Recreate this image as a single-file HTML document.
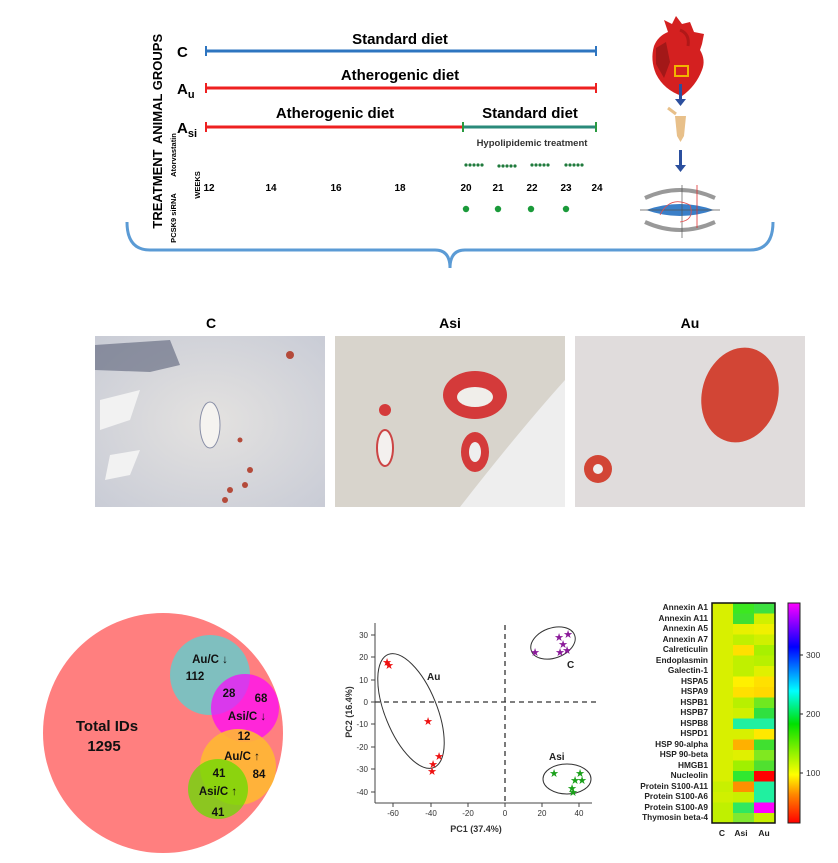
<!DOCTYPE html>
<html><head><meta charset="utf-8"><style>
body{margin:0;background:#fff}
svg{display:block}
text{font-family:"Liberation Sans",sans-serif}
.b{font-weight:bold}
</style></head><body>
<svg width="838" height="863" viewBox="0 0 838 863" xmlns="http://www.w3.org/2000/svg">
<defs>
<linearGradient id="cb" x1="0" y1="1" x2="0" y2="0">
<stop offset="0" stop-color="#ff0000"/><stop offset="0.13" stop-color="#ff8800"/><stop offset="0.22" stop-color="#ffff00"/><stop offset="0.45" stop-color="#00e000"/><stop offset="0.6" stop-color="#00ffff"/><stop offset="0.8" stop-color="#0000ff"/><stop offset="1" stop-color="#ff00ff"/>
</linearGradient>
<radialGradient id="tis" cx="0.5" cy="0.5" r="0.7"><stop offset="0" stop-color="#e4e2e0"/><stop offset="1" stop-color="#c9ccd6"/></radialGradient>
</defs>

<!-- Timeline -->
<text x="162" y="89" class="b" font-size="13" transform="rotate(-90 162 89)" text-anchor="middle">ANIMAL GROUPS</text>
<text x="162" y="189" class="b" font-size="13" transform="rotate(-90 162 189)" text-anchor="middle">TREATMENT</text>
<text x="176" y="155" class="b" font-size="7.5" transform="rotate(-90 176 155)" text-anchor="middle">Atorvastatin</text>
<text x="176" y="218" class="b" font-size="7.5" transform="rotate(-90 176 218)" text-anchor="middle">PCSK9 siRNA</text>
<text x="200" y="185" class="b" font-size="7.5" transform="rotate(-90 200 185)" text-anchor="middle">WEEKS</text>

<text x="177" y="57" class="b" font-size="15">C</text>
<text x="177" y="94" class="b" font-size="15">A<tspan font-size="11" dy="4">u</tspan></text>
<text x="177" y="133" class="b" font-size="15">A<tspan font-size="11" dy="4">si</tspan></text>

<line x1="206" y1="51" x2="596" y2="51" stroke="#2e75c0" stroke-width="3"/>
<line x1="206" y1="46" x2="206" y2="56" stroke="#2e75c0" stroke-width="2"/><line x1="596" y1="46" x2="596" y2="56" stroke="#2e75c0" stroke-width="2"/>
<text x="400" y="44" class="b" font-size="15" text-anchor="middle">Standard diet</text>

<line x1="206" y1="88" x2="596" y2="88" stroke="#ee2020" stroke-width="3"/>
<line x1="206" y1="83" x2="206" y2="93" stroke="#ee2020" stroke-width="2"/><line x1="596" y1="83" x2="596" y2="93" stroke="#ee2020" stroke-width="2"/>
<text x="400" y="80" class="b" font-size="15" text-anchor="middle">Atherogenic diet</text>

<line x1="206" y1="127" x2="463" y2="127" stroke="#ee2020" stroke-width="3"/>
<line x1="463" y1="127" x2="596" y2="127" stroke="#2a8a7a" stroke-width="3"/>
<line x1="206" y1="122" x2="206" y2="132" stroke="#ee2020" stroke-width="2"/><line x1="463" y1="122" x2="463" y2="132" stroke="#2a9a40" stroke-width="2"/><line x1="596" y1="122" x2="596" y2="132" stroke="#2a9a40" stroke-width="2"/>
<text x="335" y="118" class="b" font-size="15" text-anchor="middle">Atherogenic diet</text>
<text x="530" y="118" class="b" font-size="15" text-anchor="middle">Standard diet</text>
<text x="532" y="146" class="b" font-size="9.5" text-anchor="middle" fill="#333">Hypolipidemic treatment</text>

<g fill="#1f7a3c">
<g id="d5"><circle cx="466" cy="165" r="1.6"/><circle cx="470" cy="165" r="1.6"/><circle cx="474" cy="165" r="1.6"/><circle cx="478" cy="165" r="1.6"/><circle cx="482" cy="165" r="1.6"/></g>
<use href="#d5" x="33" y="1"/><use href="#d5" x="66"/><use href="#d5" x="100"/>
<circle cx="466" cy="209" r="3.2" fill="#1a9a3a"/><circle cx="498" cy="209" r="3.2" fill="#1a9a3a"/><circle cx="531" cy="209" r="3.2" fill="#1a9a3a"/><circle cx="566" cy="209" r="3.2" fill="#1a9a3a"/>
</g>
<g class="b" font-size="10" text-anchor="middle">
<text x="209" y="191">12</text><text x="271" y="191">14</text><text x="336" y="191">16</text><text x="400" y="191">18</text><text x="466" y="191">20</text><text x="498" y="191">21</text><text x="532" y="191">22</text><text x="566" y="191">23</text><text x="597" y="191">24</text>
</g>

<!-- heart workflow -->
<path d="M668 32 L664 20 L672 24 L676 16 L682 24 L690 22 L694 32 L704 34 L702 44 L700 50 Q706 60 702 70 Q696 86 682 96 Q664 90 656 74 Q650 60 654 46 Q658 36 668 32 Z" fill="#d42020"/>
<path d="M656 48 L666 42 L670 62 L664 78 L656 64 Z" fill="#a31818"/>
<path d="M680 30 Q690 34 688 46" fill="none" stroke="#b01818" stroke-width="3"/>
<rect x="675" y="66" width="13" height="10" fill="none" stroke="#f2b400" stroke-width="2"/>
<rect x="679" y="84" width="3" height="16" fill="#2b4f9e"/><path d="M675 99 L686 99 L680.5 106 Z" fill="#2b4f9e"/>
<path d="M675 116 L686 116 L684 136 L680.5 142 L677 136 Z" fill="#e8c08a"/>
<path d="M668 108 L676 114" stroke="#e8c08a" stroke-width="3"/>
<rect x="679" y="150" width="3" height="16" fill="#2b4f9e"/><path d="M675 165 L686 165 L680.5 172 Z" fill="#2b4f9e"/>
<path d="M645 198 Q680 182 715 198" fill="none" stroke="#999" stroke-width="4"/>
<path d="M645 222 Q680 238 715 222" fill="none" stroke="#999" stroke-width="4"/>
<path d="M646 210 Q680 198 714 210 Q680 222 646 210 Z" fill="#3a7fc8"/>
<line x1="682" y1="185" x2="682" y2="238" stroke="#555" stroke-width="0.7"/>
<line x1="640" y1="210" x2="720" y2="210" stroke="#555" stroke-width="0.7"/>
<line x1="697" y1="185" x2="697" y2="228" stroke="#e03030" stroke-width="0.8"/>
<path d="M660 215 Q670 195 690 205 Q695 220 680 222" fill="none" stroke="#e05050" stroke-width="0.8"/>

<!-- bracket -->
<path d="M127 222 Q127 250 150 250 L435 250 Q450 250 450 268 Q450 250 465 250 L750 250 Q773 250 773 222" fill="none" stroke="#5b9bd5" stroke-width="3"/>

<!-- micrographs -->
<g class="b" font-size="14" text-anchor="middle"><text x="211" y="328">C</text><text x="450" y="328">Asi</text><text x="690" y="328">Au</text></g>
<rect x="95" y="336" width="230" height="171" fill="url(#tis)"/>
<path d="M95 345 L170 340 L180 365 L150 372 L95 370 Z" fill="#5a6078" opacity="0.6"/>
<path d="M100 400 L140 390 L130 420 L100 430 Z M110 455 L140 450 L130 475 L105 480 Z" fill="#f2f2f2"/>
<ellipse cx="210" cy="425" rx="10" ry="23" fill="#f5f3f0" stroke="#8a90a8"/>
<g fill="#b44a3a"><circle cx="290" cy="355" r="4"/><circle cx="250" cy="470" r="3"/><circle cx="245" cy="485" r="3"/><circle cx="230" cy="490" r="3"/><circle cx="225" cy="500" r="3"/><circle cx="240" cy="440" r="2.5"/></g>

<rect x="335" y="336" width="230" height="171" fill="#d8d4cc"/>
<path d="M565 380 Q520 430 460 507 L565 507 Z" fill="#eeeeee"/>
<ellipse cx="475" cy="395" rx="32" ry="24" fill="#d43a3a"/><ellipse cx="475" cy="397" rx="18" ry="10" fill="#f0eeea"/>
<ellipse cx="475" cy="452" rx="14" ry="20" fill="#d43a3a"/><ellipse cx="475" cy="452" rx="6" ry="10" fill="#eee"/>
<ellipse cx="385" cy="448" rx="8" ry="18" fill="#f3f0ee" stroke="#c44" stroke-width="2"/>
<circle cx="385" cy="410" r="6" fill="#d43a3a"/>

<rect x="575" y="336" width="230" height="171" fill="#e0dcdc"/>
<ellipse cx="740" cy="395" rx="38" ry="48" transform="rotate(15 740 395)" fill="#d24535"/>
<circle cx="598" cy="469" r="14" fill="#d24535"/><circle cx="598" cy="469" r="5" fill="#eee"/>

<!-- Venn -->
<circle cx="163" cy="733" r="120" fill="#ff7f7f"/>
<circle cx="210" cy="675" r="40" fill="#7fbfbf"/>
<circle cx="245" cy="708" r="34" fill="#ff00ff" opacity="0.7"/>
<circle cx="238" cy="767" r="38" fill="#ffb833" opacity="0.9"/>
<circle cx="218" cy="789" r="30" fill="#66dd00" opacity="0.75"/>
<g class="b" font-size="11.5" text-anchor="middle" fill="#111">
<text x="107" y="731" font-size="15">Total IDs</text><text x="104" y="751" font-size="15">1295</text>
<text x="210" y="663">Au/C ↓</text><text x="195" y="680">112</text><text x="229" y="697">28</text><text x="261" y="702">68</text>
<text x="247" y="720">Asi/C ↓</text><text x="244" y="740">12</text><text x="242" y="760">Au/C ↑</text>
<text x="219" y="777">41</text><text x="259" y="778">84</text><text x="218" y="795">Asi/C ↑</text><text x="218" y="816">41</text>
</g>

<!-- PCA -->
<g stroke="#444" stroke-width="1" fill="none">
<line x1="375" y1="623" x2="375" y2="803"/><line x1="375" y1="803" x2="592" y2="803"/>
</g>
<g stroke="#444" stroke-width="1">
<line x1="371" y1="635" x2="375" y2="635"/><line x1="371" y1="657" x2="375" y2="657"/><line x1="371" y1="680" x2="375" y2="680"/><line x1="371" y1="702" x2="375" y2="702"/><line x1="371" y1="724" x2="375" y2="724"/><line x1="371" y1="747" x2="375" y2="747"/><line x1="371" y1="769" x2="375" y2="769"/><line x1="371" y1="792" x2="375" y2="792"/>
<line x1="393" y1="803" x2="393" y2="807"/><line x1="431" y1="803" x2="431" y2="807"/><line x1="468" y1="803" x2="468" y2="807"/><line x1="505" y1="803" x2="505" y2="807"/><line x1="542" y1="803" x2="542" y2="807"/><line x1="579" y1="803" x2="579" y2="807"/>
</g>
<g font-size="8" fill="#333" text-anchor="end">
<text x="368" y="638">30</text><text x="368" y="660">20</text><text x="368" y="683">10</text><text x="368" y="705">0</text><text x="368" y="727">-10</text><text x="368" y="750">-20</text><text x="368" y="772">-30</text><text x="368" y="795">-40</text>
</g>
<g font-size="8" fill="#333" text-anchor="middle">
<text x="393" y="816">-60</text><text x="431" y="816">-40</text><text x="468" y="816">-20</text><text x="505" y="816">0</text><text x="542" y="816">20</text><text x="579" y="816">40</text>
</g>
<text x="476" y="832" class="b" font-size="9" text-anchor="middle" fill="#333">PC1 (37.4%)</text>
<text x="352" y="712" class="b" font-size="9" text-anchor="middle" fill="#333" transform="rotate(-90 352 712)">PC2 (16.4%)</text>
<line x1="505" y1="625" x2="505" y2="803" stroke="#333" stroke-dasharray="5,4" stroke-width="1.3"/>
<line x1="375" y1="702" x2="600" y2="702" stroke="#333" stroke-dasharray="5,4" stroke-width="1.3"/>
<g fill="none" stroke="#333" stroke-width="1">
<ellipse cx="411" cy="711" rx="26" ry="61" transform="rotate(-22 411 711)"/>
<ellipse cx="553" cy="643" rx="23" ry="15" transform="rotate(-20 553 643)"/>
<ellipse cx="567" cy="779" rx="24" ry="15"/>
</g>
<g class="b" font-size="10" fill="#222"><text x="427" y="680">Au</text><text x="567" y="668">C</text><text x="549" y="760">Asi</text></g>
<g font-size="11" text-anchor="middle">
<g fill="#ee1111"><text x="387" y="666">★</text><text x="389" y="669">★</text><text x="428" y="725">★</text><text x="439" y="760">★</text><text x="433" y="768">★</text><text x="432" y="775">★</text></g>
<g fill="#8b1a9a"><text x="535" y="656">★</text><text x="559" y="641">★</text><text x="568" y="638">★</text><text x="563" y="648">★</text><text x="567" y="654">★</text><text x="560" y="656">★</text></g>
<g fill="#1aa01a"><text x="554" y="777">★</text><text x="575" y="784">★</text><text x="580" y="777">★</text><text x="582" y="784">★</text><text x="572" y="792">★</text><text x="573" y="796">★</text></g>
</g>

<!-- Heatmap -->
<g font-size="8.3" class="b" text-anchor="end" fill="#222">
<text x="708" y="610">Annexin A1</text><text x="708" y="621">Annexin A11</text><text x="708" y="631">Annexin A5</text><text x="708" y="642">Annexin A7</text><text x="708" y="652">Calreticulin</text><text x="708" y="663">Endoplasmin</text><text x="708" y="673">Galectin-1</text><text x="708" y="684">HSPA5</text><text x="708" y="694">HSPA9</text><text x="708" y="705">HSPB1</text><text x="708" y="715">HSPB7</text><text x="708" y="726">HSPB8</text><text x="708" y="736">HSPD1</text><text x="708" y="747">HSP 90-alpha</text><text x="708" y="757">HSP 90-beta</text><text x="708" y="768">HMGB1</text><text x="708" y="778">Nucleolin</text><text x="708" y="789">Protein S100-A11</text><text x="708" y="799">Protein S100-A6</text><text x="708" y="810">Protein S100-A9</text><text x="708" y="820">Thymosin beta-4</text>
</g>
<rect x="712" y="603" width="63" height="220" fill="#d8f000"/>
<g>
<rect x="733" y="603.0" width="21" height="10.5" fill="#3ce820"/><rect x="754" y="603.0" width="21" height="10.5" fill="#3de040"/>
<rect x="733" y="613.5" width="21" height="10.5" fill="#40e030"/><rect x="754" y="613.5" width="21" height="10.5" fill="#d0f000"/>
<rect x="733" y="624.0" width="21" height="10.5" fill="#e8f000"/><rect x="754" y="624.0" width="21" height="10.5" fill="#f0f000"/>
<rect x="733" y="634.5" width="21" height="10.5" fill="#c0f000"/><rect x="754" y="634.5" width="21" height="10.5" fill="#d0f000"/>
<rect x="733" y="645.0" width="21" height="10.5" fill="#ffe000"/><rect x="754" y="645.0" width="21" height="10.5" fill="#a8f000"/>
<rect x="733" y="655.5" width="21" height="10.5" fill="#c0f000"/><rect x="754" y="655.5" width="21" height="10.5" fill="#b8f000"/>
<rect x="733" y="666.0" width="21" height="10.5" fill="#c0f000"/><rect x="754" y="666.0" width="21" height="10.5" fill="#e0f000"/>
<rect x="733" y="676.5" width="21" height="10.5" fill="#fff000"/><rect x="754" y="676.5" width="21" height="10.5" fill="#ffe000"/>
<rect x="733" y="687.0" width="21" height="10.5" fill="#ffe000"/><rect x="754" y="687.0" width="21" height="10.5" fill="#ffd800"/>
<rect x="733" y="697.5" width="21" height="10.5" fill="#b8f000"/><rect x="754" y="697.5" width="21" height="10.5" fill="#70e820"/>
<rect x="733" y="708.0" width="21" height="10.5" fill="#d0f000"/><rect x="754" y="708.0" width="21" height="10.5" fill="#30e040"/>
<rect x="733" y="718.5" width="21" height="10.5" fill="#20f0a0"/><rect x="754" y="718.5" width="21" height="10.5" fill="#20f0a0"/>
<rect x="733" y="729.0" width="21" height="10.5" fill="#d8f000"/><rect x="754" y="729.0" width="21" height="10.5" fill="#ffe800"/>
<rect x="733" y="739.5" width="21" height="10.5" fill="#ffb000"/><rect x="754" y="739.5" width="21" height="10.5" fill="#40e030"/>
<rect x="733" y="750.0" width="21" height="10.5" fill="#e0f000"/><rect x="754" y="750.0" width="21" height="10.5" fill="#80e820"/>
<rect x="733" y="760.5" width="21" height="10.5" fill="#a0f000"/><rect x="754" y="760.5" width="21" height="10.5" fill="#50e030"/>
<rect x="733" y="771.0" width="21" height="10.5" fill="#30e830"/><rect x="754" y="771.0" width="21" height="10.5" fill="#ff0000"/>
<rect x="712" y="781.5" width="21" height="10.5" fill="#c8f000"/><rect x="733" y="781.5" width="21" height="10.5" fill="#ff9000"/><rect x="754" y="781.5" width="21" height="10.5" fill="#20f0a0"/>
<rect x="712" y="792.0" width="21" height="10.5" fill="#d0f000"/><rect x="733" y="792.0" width="21" height="10.5" fill="#c8f000"/><rect x="754" y="792.0" width="21" height="10.5" fill="#20f0a0"/>
<rect x="712" y="802.5" width="21" height="10.5" fill="#c0f000"/><rect x="733" y="802.5" width="21" height="10.5" fill="#30e860"/><rect x="754" y="802.5" width="21" height="10.5" fill="#ff00ff"/>
<rect x="712" y="813.0" width="21" height="10" fill="#c0f000"/><rect x="733" y="813.0" width="21" height="10" fill="#80e830"/><rect x="754" y="813.0" width="21" height="10" fill="#c8f000"/>
</g>
<rect x="712" y="603" width="63" height="220" fill="none" stroke="#111" stroke-width="1.5"/>
<g font-size="8.5" class="b" text-anchor="middle" fill="#222"><text x="722" y="836">C</text><text x="741" y="836">Asi</text><text x="764" y="836">Au</text></g>
<rect x="788" y="603" width="12" height="220" fill="url(#cb)" stroke="#222" stroke-width="1"/>
<g stroke="#222"><line x1="800" y1="655" x2="803" y2="655"/><line x1="800" y1="714" x2="803" y2="714"/><line x1="800" y1="773" x2="803" y2="773"/></g>
<g font-size="8.5" fill="#333"><text x="806" y="658">300</text><text x="806" y="717">200</text><text x="806" y="776">100</text></g>
</svg>
</body></html>
